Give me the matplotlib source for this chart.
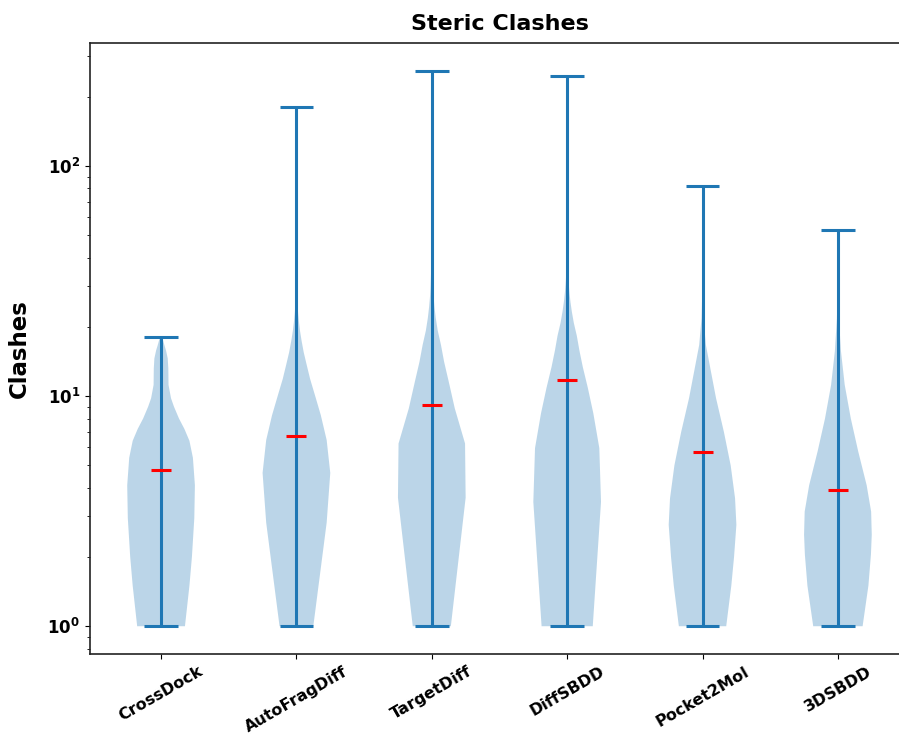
import numpy as np
import matplotlib
matplotlib.use("Agg")
import matplotlib.pyplot as plt

methods = ["CrossDock", "AutoFragDiff", "TargetDiff", "DiffSBDD", "Pocket2Mol", "3DSBDD"]

# density outlines: (clash count, relative half-width)
crossdock_y = [1.0, 1.5, 2.0, 2.95, 4.1, 5.4, 6.4, 7.2, 8.0, 9.0, 9.8, 11.2, 13.2, 14.6, 15.8, 16.7, 17.5, 18.0]
crossdock_w = [24, 28.5, 31, 33.4, 34, 32, 28.5, 23.5, 18, 13, 10, 7.5, 7.3, 6.7, 5, 3.3, 2, 1.2]

autofrag_y = [1.0, 2.82, 4.64, 6.45, 8.27, 10.1, 11.9, 13.7, 15.5, 17.4, 19.2, 21.0, 22.8, 24.6, 26.5, 30, 35, 45, 80, 181]
autofrag_w = [17.3, 31, 34.7, 31, 25, 19, 14, 10.5, 7.5, 5.3, 3.7, 2.6, 1.8, 1.2, 0.8, 0.4, 0.15, 0.04, 0.01, 0.005]

targetdiff_y = [1.0, 3.62, 6.23, 8.85, 11.5, 14.1, 16.7, 19.3, 21.9, 24.5, 27.2, 29.8, 32.4, 35, 40, 50, 60, 100, 260]
targetdiff_w = [19.3, 34.3, 33.7, 23.3, 17.3, 12.5, 9.3, 6, 4, 2.7, 1.8, 1.3, 1.0, 0.7, 0.4, 0.15, 0.05, 0.01, 0.005]

diffsbdd_y = [1.0, 3.47, 5.95, 8.42, 10.9, 13.4, 15.8, 18.3, 20.8, 23.3, 25.7, 28.2, 30.7, 33.2, 35.6, 40, 50, 70, 246]
diffsbdd_w = [25.7, 34, 32.3, 26.3, 20.7, 15.7, 12.3, 9.7, 6.7, 4.7, 3.3, 2.3, 1.6, 1.1, 0.7, 0.35, 0.1, 0.02, 0.005]

pocket2mol_y = [1.0, 1.5, 2.0, 2.76, 3.6, 5.0, 7.0, 9.8, 13.2, 16.7, 21.8, 27, 35, 50, 82]
pocket2mol_w = [23.3, 28.3, 31, 33.3, 32, 27.7, 21, 13.3, 7.7, 3.3, 1, 0.4, 0.1, 0.02, 0.005]

sbdd3d_y = [1.0, 1.5, 2.05, 2.5, 3.15, 4.1, 5.75, 8.0, 11.2, 15.7, 21.8, 28, 35, 53]
sbdd3d_w = [24.3, 30, 32.5, 33.3, 32.7, 28.3, 20, 12.7, 6.7, 3, 1, 0.3, 0.08, 0.01]

means = [4.8, 6.7, 9.2, 11.8, 5.7, 3.9]
mins = [1, 1, 1, 1, 1, 1]
maxs = [18, 181, 260, 246, 82, 53]

outlines = [(crossdock_y, crossdock_w), (autofrag_y, autofrag_w), (targetdiff_y, targetdiff_w),
            (diffsbdd_y, diffsbdd_w), (pocket2mol_y, pocket2mol_w), (sbdd3d_y, sbdd3d_w)]

vpstats = []
for (ys, ws), m, lo, hi in zip(outlines, means, mins, maxs):
    vpstats.append(dict(coords=np.array(ys, float), vals=np.array(ws, float),
                        mean=m, median=m, min=lo, max=hi))

fig = plt.figure(figsize=(8.99, 7.38), dpi=100)
ax = fig.add_axes([0.1001, 0.1138, 0.911, 0.828])
ax.set_yscale("log")

pos = np.arange(1, len(methods) + 1)
parts = ax.violin(vpstats, positions=pos, widths=0.5, showmeans=False,
                  showextrema=True, showmedians=False)
for key in ["cbars", "cmins", "cmaxes"]:
    parts[key].set_linewidth(2.2)

ax.scatter(pos, means, marker="_", color="red", s=200, linewidths=2.2, zorder=3)

for sp in ax.spines.values():
    sp.set_linewidth(1.2)
    sp.set_color("#222222")

ax.set_xticks(pos)
ax.set_xticklabels(methods, rotation=30, fontsize=11.5, fontweight="bold")
for lbl in ax.get_yticklabels():
    lbl.set_fontweight("bold")
ax.tick_params(axis="y", labelsize=12)
ax.set_ylabel("Clashes", fontsize=16.5, fontweight="bold", labelpad=12)
ax.set_title("Steric Clashes", fontsize=16, fontweight="bold", pad=9)

fig.savefig("out.png", dpi=100)
